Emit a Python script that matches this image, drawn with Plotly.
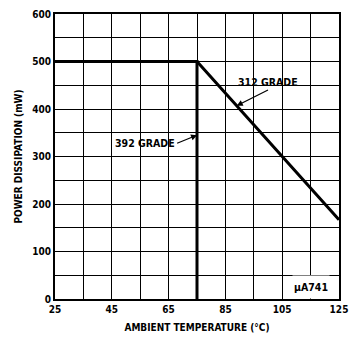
import plotly.graph_objects as go

# Data
temp_312 = [25, 75, 125]
power_312 = [500, 500, 167]
temp_392 = [25, 75, 75]
power_392 = [500, 500, 0]

x_tickvals = [25, 45, 65, 85, 105, 125]
y_tickvals = [0, 100, 200, 300, 400, 500, 600]

FONT = "DejaVu Sans Condensed, Liberation Sans Narrow, Arial Narrow, sans-serif"

fig = go.Figure()
fig.add_trace(go.Scatter(x=temp_312, y=power_312, mode="lines",
                         line=dict(color="black", width=3), showlegend=False))
fig.add_trace(go.Scatter(x=temp_392, y=power_392, mode="lines",
                         line=dict(color="black", width=3), showlegend=False))

fig.add_annotation(x=89, y=407, ax=100, ay=440, xref="x", yref="y", axref="x", ayref="y",
                   text="312 GRADE", showarrow=True, arrowhead=2, arrowsize=1, arrowwidth=1.2,
                   arrowcolor="black", xanchor="center", yanchor="bottom", standoff=0,
                   font=dict(family=FONT, size=10.5, color="black", weight="bold"))
fig.add_annotation(x=75, y=345, ax=68, ay=328, xref="x", yref="y", axref="x", ayref="y",
                   text="392 GRADE", showarrow=True, arrowhead=2, arrowsize=1, arrowwidth=1.2,
                   arrowcolor="black", xanchor="right", yanchor="middle", standoff=0,
                   font=dict(family=FONT, size=10.5, color="black", weight="bold"))
fig.add_annotation(x=115, y=25, xref="x", yref="y", text="μA741", showarrow=False,
                   bgcolor="white", width=34, height=20,
                   font=dict(family=FONT, size=10.5, color="black", weight="bold"))

axis_font = dict(family=FONT, size=10, color="black", weight="bold")

fig.update_xaxes(range=[25, 125], tickvals=x_tickvals, ticktext=[str(v) for v in x_tickvals],
                 showgrid=True, gridcolor="black", gridwidth=1.2,
                 minor=dict(tick0=25, dtick=10, showgrid=True, gridcolor="black", gridwidth=1.2),
                 showline=True, linecolor="black", linewidth=2, mirror=True,
                 ticks="", tickfont=axis_font, zeroline=False, ticklabeloverflow="allow",
                 automargin=False,
                 title=dict(text="AMBIENT TEMPERATURE (°C)", font=axis_font, standoff=10))
fig.update_yaxes(range=[0, 600], tickvals=y_tickvals, ticktext=[str(v) for v in y_tickvals],
                 showgrid=True, gridcolor="black", gridwidth=1.2,
                 minor=dict(tick0=0, dtick=50, showgrid=True, gridcolor="black", gridwidth=1.2),
                 showline=True, linecolor="black", linewidth=2, mirror=True,
                 ticks="", tickfont=axis_font, zeroline=False, automargin=False,
                 title=dict(text="POWER DISSIPATION (mW)", font=dict(family=FONT, size=10, color="black", weight="bold"), standoff=8))

fig.update_layout(width=349, height=348, margin=dict(l=55, r=10, t=14, b=49),
                  paper_bgcolor="white", plot_bgcolor="white")

fig.write_html("out.html")
